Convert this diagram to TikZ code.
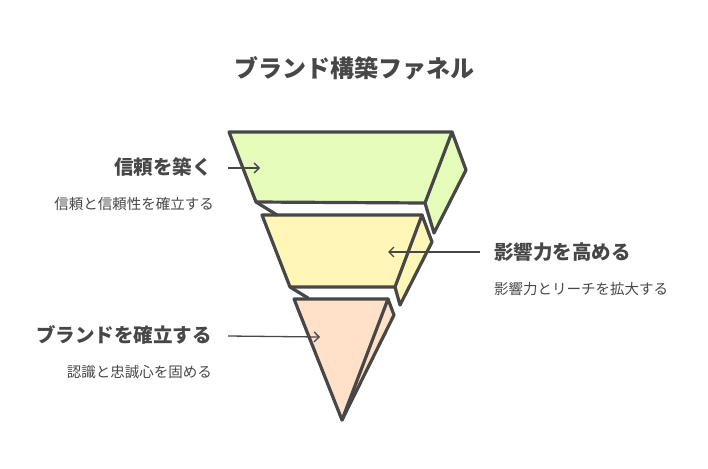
\documentclass[tikz,border=0pt]{standalone}
\usepackage{fontspec}
\setmainfont{Noto Sans CJK JP}
\usetikzlibrary{arrows.meta}
\definecolor{ink}{HTML}{474747}
\definecolor{cgreen}{HTML}{E6FCBA}
\definecolor{cyellow}{HTML}{FFF6B8}
\definecolor{cpeach}{HTML}{FFE1C9}
\tikzset{
  outline/.style={draw=ink,line width=3.2pt,line join=round,line cap=round},
  conn/.style={draw=ink,line width=1.3pt,-{Straight Barb[length=5pt,width=10pt]}},
  head/.style={font=\bfseries\fontsize{19.5pt}{22pt}\selectfont,text=ink,inner sep=0pt},
  sub/.style={font=\fontsize{14.5pt}{17pt}\selectfont,text=ink,inner sep=0pt},
}
\begin{document}
\begin{tikzpicture}[x=1pt,y=-1pt]
\useasboundingbox (0,0) rectangle (708,468);
% fills
\fill[cgreen] (229,132)--(452,132)--(466,170)--(434,233)--(425,203)--(256,202)--cycle;
\fill[cyellow] (262,215)--(422,215)--(432,242)--(400,305)--(395,287)--(290,287)--cycle;
\fill[cpeach] (294,299)--(388,299)--(394,315)--(342,420)--cycle;
% outlines
\draw[outline] (229,132)--(452,132)--(425,203)--(256,202)--cycle;
\draw[outline] (452,132)--(466,170)--(434,233)--(425,203);
\draw[outline] (256,202)--(277,215);
\draw[outline] (262,215)--(422,215)--(395,287)--(290,287)--cycle;
\draw[outline] (422,215)--(432,242)--(400,305)--(395,287);
\draw[outline] (290,287)--(308,298);
\draw[outline] (294,299)--(388,299)--(342,420)--cycle;
\draw[outline] (388,299)--(394,315)--(342,420);
% texts
\node[font=\bfseries\fontsize{24pt}{28pt}\selectfont,text=ink] (title) at (354,68) {ブランド構築ファネル};
\node[head,anchor=east] (l1) at (212,167) {信頼を築く};
\node[sub,anchor=east] (s1) at (214,204) {信頼と信頼性を確立する};
\node[head,anchor=west] (l2) at (494,252) {影響力を高める};
\node[sub,anchor=west] (s2) at (494,289) {影響力とリーチを拡大する};
\node[head,anchor=east] (l3) at (212,335) {ブランドを確立する};
\node[sub,anchor=east] (s3) at (212,372) {認識と忠誠心を固める};
\coordinate (a1) at (228,168); \coordinate (b1) at (260,168);
\coordinate (a2) at (480,252); \coordinate (b2) at (388,252);
\coordinate (a3) at (228,336); \coordinate (b3) at (320,337);
\draw[conn] (a1)--(b1);
\draw[conn] (a2)--(b2);
\draw[conn] (a3)--(b3);
\end{tikzpicture}
\end{document}
